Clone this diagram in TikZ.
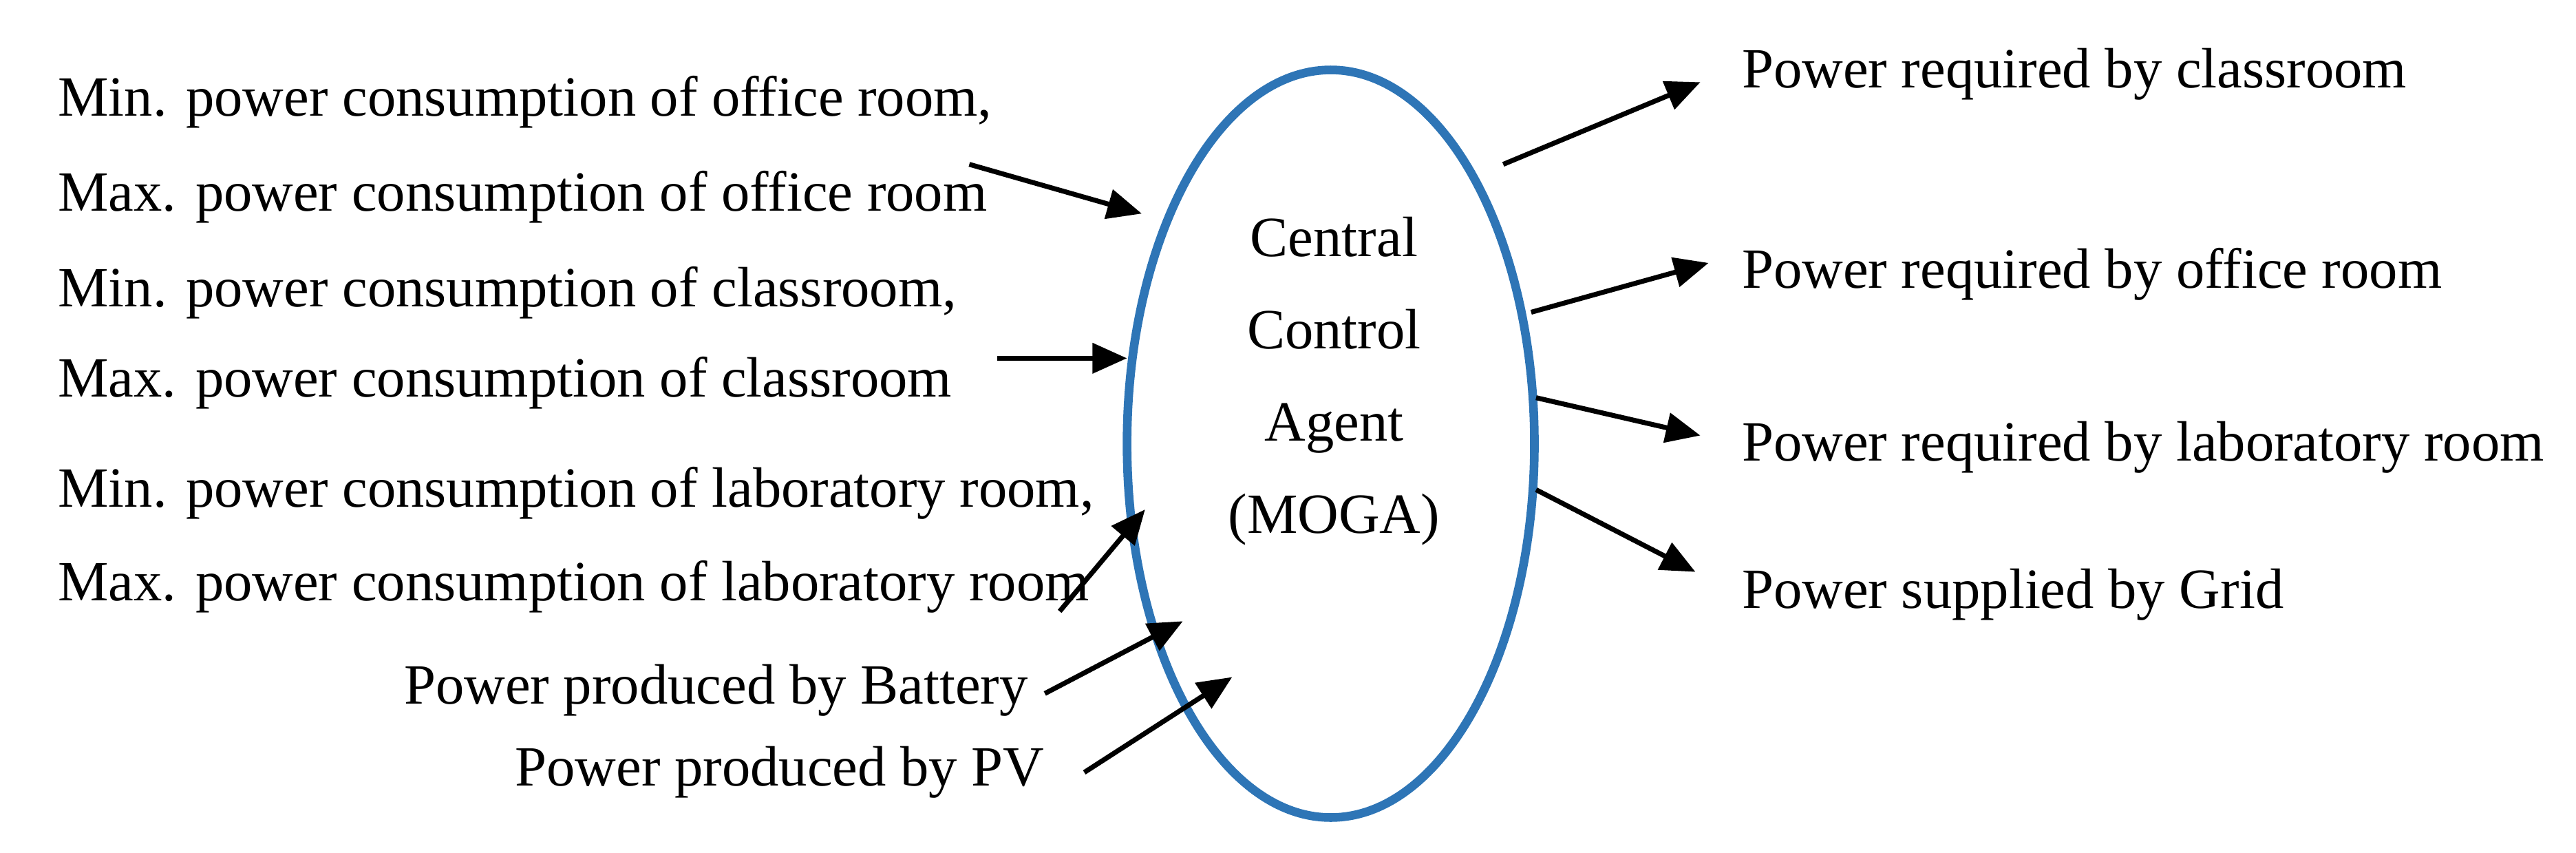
\documentclass[tikz,border=0pt]{standalone}
\usepackage{fontspec}
\setmainfont{Liberation Serif}
\usetikzlibrary{arrows.meta,shapes.geometric}
\definecolor{eblue}{RGB}{46,117,182}
\begin{document}
\begin{tikzpicture}[x=0.02cm,y=-0.02cm,
  lab/.style={font=\fontsize{19.7}{22}\selectfont,inner sep=0pt},
  arr/.style={line width=1.7pt,-{Triangle[length=0.42cm,width=0.36cm]}}]
\useasboundingbox (0,0) rectangle (1568,519);
\node[draw=eblue,line width=3pt,ellipse,minimum width=4.96cm,minimum height=9.1cm,inner sep=0pt] (ca) at (810,270) {};
\node[lab,align=center,font=\fontsize{19.7}{32}\selectfont] (ct) at (812,232) {Central\\Control\\Agent\\(MOGA)};
\node[lab,anchor=west] (l1) at (35,62) {Min. power consumption of office room,};
\node[lab,anchor=west] (l2) at (35,120) {Max. power consumption of office room};
\node[lab,anchor=west] (l3) at (35,178) {Min. power consumption of classroom,};
\node[lab,anchor=west] (l4) at (35,233) {Max. power consumption of classroom};
\node[lab,anchor=west] (l5) at (35,300) {Min. power consumption of laboratory room,};
\node[lab,anchor=west] (l6) at (35,357) {Max. power consumption of laboratory room};
\node[lab,anchor=east] (l7) at (626,420) {Power produced by Battery};
\node[lab,anchor=east] (l8) at (636,470) {Power produced by PV};
\node[lab,anchor=west] (r1) at (1060,45) {Power required by classroom};
\node[lab,anchor=west] (r2) at (1060,167) {Power required by office room};
\node[lab,anchor=west] (r3) at (1060,272) {Power required by laboratory room};
\node[lab,anchor=west] (r4) at (1060,362) {Power supplied by Grid};
\coordinate (a1s) at (590,100); \coordinate (a1e) at (695,130);
\coordinate (a2s) at (607,218); \coordinate (a2e) at (686,218);
\coordinate (a3s) at (645,372); \coordinate (a3e) at (697,310);
\coordinate (a4s) at (636,422); \coordinate (a4e) at (720,378);
\coordinate (a5s) at (660,470); \coordinate (a5e) at (750,412);
\coordinate (b1s) at (915,100); \coordinate (b1e) at (1035,50);
\coordinate (b2s) at (932,190); \coordinate (b2e) at (1040,160);
\coordinate (b3s) at (935,242); \coordinate (b3e) at (1035,265);
\coordinate (b4s) at (935,298); \coordinate (b4e) at (1032,348);
\foreach \p in {a1,a2,a3,a4,a5,b1,b2,b3,b4} \draw[arr] (\p s) -- (\p e);
\end{tikzpicture}
\end{document}
